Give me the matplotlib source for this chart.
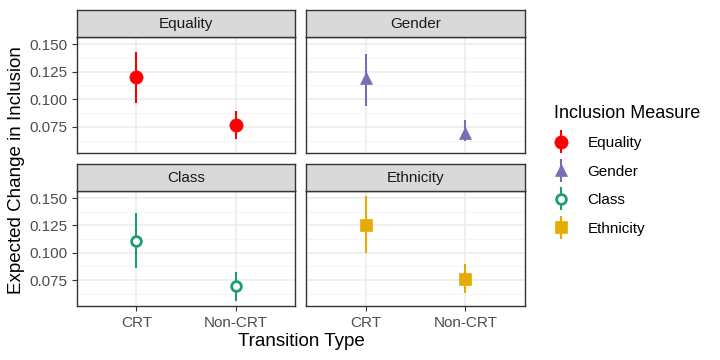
import matplotlib.pyplot as plt
from matplotlib.ticker import MultipleLocator
from matplotlib.legend_handler import HandlerErrorbar

plt.rcParams['font.family'] = ['Liberation Sans', 'DejaVu Sans']

# Data
transition = ["CRT", "Non-CRT"]
measures = ["Equality", "Gender", "Class", "Ethnicity"]
estimate = {
    "Equality": [0.120, 0.0766],
    "Gender": [0.119, 0.0697],
    "Class": [0.1112, 0.0693],
    "Ethnicity": [0.1254, 0.0765],
}
lower = {
    "Equality": [0.0964, 0.0639],
    "Gender": [0.0939, 0.0621],
    "Class": [0.0863, 0.0563],
    "Ethnicity": [0.0997, 0.0630],
}
upper = {
    "Equality": [0.1432, 0.0891],
    "Gender": [0.1409, 0.0809],
    "Class": [0.1359, 0.0825],
    "Ethnicity": [0.1515, 0.0900],
}

colors = {"Equality": "#FF0000", "Gender": "#7570B3", "Class": "#1B9E77", "Ethnicity": "#E6AB02"}
markers = {"Equality": "o", "Gender": "^", "Class": "o", "Ethnicity": "s"}
msizes = {"Equality": 9.5, "Gender": 9, "Class": 7, "Ethnicity": 8}
filled = {"Equality": True, "Gender": True, "Class": False, "Ethnicity": True}

W, H = 720, 360
fig = plt.figure(figsize=(7.2, 3.6), dpi=100)

# panel pixel boxes (left, right, top, bottom)
cols = [(77, 295), (306, 525)]
rows = [(37, 153), (191, 306)]
strip_h = 27
border = "#333333"

handles = []
for i, m in enumerate(measures):
    r, c = divmod(i, 2)
    x0, x1 = cols[c]
    y0, y1 = rows[r]
    ax = fig.add_axes([x0 / W, 1 - y1 / H, (x1 - x0) / W, (y1 - y0) / H])
    xs = range(len(transition))
    yerr = [[e - l for e, l in zip(estimate[m], lower[m])],
            [u - e for e, u in zip(estimate[m], upper[m])]]
    cont = ax.errorbar(xs, estimate[m], yerr=yerr, fmt=markers[m], color=colors[m],
                       ecolor=colors[m], elinewidth=1.5, capsize=0,
                       markersize=msizes[m],
                       markerfacecolor=colors[m] if filled[m] else "white",
                       markeredgewidth=2 if not filled[m] else 0.5, zorder=3)
    handles.append(cont)
    ax.set_xlim(-0.6, 1.6)
    ax.set_ylim(0.0514, 0.1564)
    ax.yaxis.set_major_locator(MultipleLocator(0.025))
    ax.yaxis.set_minor_locator(MultipleLocator(0.0125))
    ax.set_xticks(list(xs))
    ax.grid(True, which="major", color="#EBEBEB", linewidth=1.1)
    ax.grid(True, which="minor", axis="y", color="#F2F2F2", linewidth=0.6)
    ax.set_axisbelow(True)
    for s in ax.spines.values():
        s.set_color(border)
        s.set_linewidth(1.0)
    ax.tick_params(axis="both", which="major", colors=border, length=3.5,
                   labelcolor="#4D4D4D", labelsize=11)
    ax.tick_params(axis="y", which="minor", length=0)
    if c == 0:
        ax.set_yticklabels(["%.3f" % t for t in ax.get_yticks()])
    else:
        ax.tick_params(axis="y", which="major", length=0, labelleft=False)
    if r == 1:
        ax.set_xticklabels(transition)
    else:
        ax.tick_params(axis="x", length=0, labelbottom=False)

    sax = fig.add_axes([x0 / W, 1 - y0 / H, (x1 - x0) / W, strip_h / H])
    sax.set_facecolor("#D9D9D9")
    sax.set_xticks([])
    sax.set_yticks([])
    for s in sax.spines.values():
        s.set_color(border)
        s.set_linewidth(1.0)
    sax.text(0.5, 0.48, m, ha="center", va="center", fontsize=11, color="#1A1A1A",
             transform=sax.transAxes)

fig.text(17 / W, 1 - 170 / H, "Expected Change in Inclusion", rotation=90,
         ha="center", va="center", fontsize=13.5)
fig.text(301 / W, 1 - 341 / H, "Transition Type", ha="center", va="center",
         fontsize=13.5)

leg = fig.legend(handles, measures, loc="upper left", bbox_to_anchor=(540 / W, 1 - 91 / H),
                 frameon=False, title="Inclusion Measure", fontsize=11,
                 title_fontsize=13, handlelength=1.0, handletextpad=1.2,
                 labelspacing=0.95, alignment="left",
                 handler_map={type(handles[0]): HandlerErrorbar(yerr_size=0.75)})

fig.savefig("out.png", dpi=100)
